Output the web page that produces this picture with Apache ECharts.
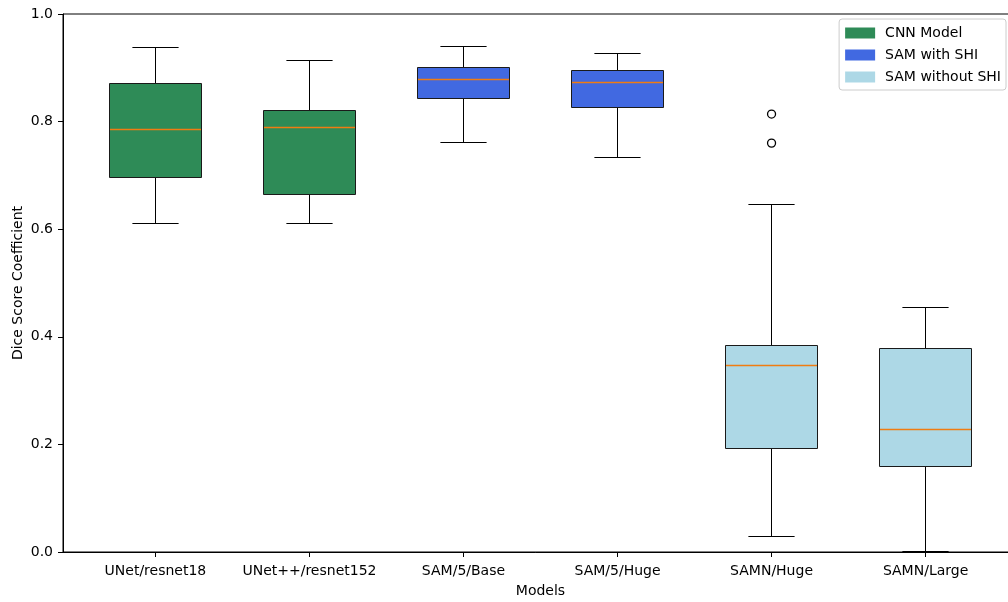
<!DOCTYPE html>
<html>
<head>
<meta charset="utf-8">
<title>Dice Score Coefficient by Model</title>
<script src="https://cdn.jsdelivr.net/npm/echarts@6/dist/echarts.min.js"></script>
<style>
  html, body { margin: 0; padding: 0; background: #fff; }
  #chart { width: 1008px; height: 602px; }
</style>
</head>
<body>
<div id="chart"></div>
<script>
// Models on the x axis (positions 1..6)
const categories = ['UNet/resnet18', 'UNet++/resnet152', 'SAM/5/Base', 'SAM/5/Huge', 'SAMN/Huge', 'SAMN/Large'];
const groupOf = ['CNN Model', 'CNN Model', 'SAM with SHI', 'SAM with SHI', 'SAM without SHI', 'SAM without SHI'];
const groupNames = ['CNN Model', 'SAM with SHI', 'SAM without SHI'];
const groupColors = ['#2e8b57', '#4169e1', '#add8e6'];

// Five-number summaries of the Dice scores
const whiskerLow  = [0.611, 0.611, 0.762, 0.734, 0.029, 0.001];
const quartile1   = [0.697, 0.665, 0.843, 0.827, 0.193, 0.159];
const medians     = [0.785, 0.789, 0.879, 0.872, 0.347, 0.228];
const quartile3   = [0.870, 0.821, 0.900, 0.895, 0.383, 0.378];
const whiskerHigh = [0.937, 0.914, 0.939, 0.926, 0.645, 0.455];

// Fliers: [model index, value]
const outliers = [[4, 0.814], [4, 0.760]];

const xPositions = categories.map((_, i) => i + 1);

const font = 'DejaVu Sans, Verdana, sans-serif';
const fontSize = 14;

// snap a coordinate to the pixel centre so 1px strokes stay sharp
const crisp = v => Math.round(v - 0.5) + 0.5;

function renderBox(params, api) {
  const x = api.value(0);
  const band = api.size([1, 0])[0];
  const half = band * 0.3;
  const capHalf = band * 0.15;
  const cx = crisp(api.coord([x, 0])[0]);
  const yLo = crisp(api.coord([x, api.value(1)])[1]);
  const yQ1 = crisp(api.coord([x, api.value(2)])[1]);
  const yMed = crisp(api.coord([x, api.value(3)])[1]);
  const yQ3 = crisp(api.coord([x, api.value(4)])[1]);
  const yHi = crisp(api.coord([x, api.value(5)])[1]);
  const left = crisp(cx - half), right = crisp(cx + half);
  const line = { stroke: '#000', lineWidth: 1 };
  return {
    type: 'group',
    children: [
      { type: 'line', shape: { x1: cx, y1: yQ1, x2: cx, y2: yLo }, style: line },
      { type: 'line', shape: { x1: cx, y1: yQ3, x2: cx, y2: yHi }, style: line },
      { type: 'line', shape: { x1: cx - capHalf, y1: yLo, x2: cx + capHalf, y2: yLo }, style: line },
      { type: 'line', shape: { x1: cx - capHalf, y1: yHi, x2: cx + capHalf, y2: yHi }, style: line },
      { type: 'rect', shape: { x: left, y: yQ3, width: right - left, height: yQ1 - yQ3 },
        style: { fill: api.visual('color'), stroke: '#1a1a1a', lineWidth: 1 } },
      { type: 'line', shape: { x1: left + 0.5, y1: yMed, x2: right - 0.5, y2: yMed },
        style: { stroke: '#f07c12', lineWidth: 1.5 } }
    ]
  };
}

const boxSeries = groupNames.map((name, g) => ({
  name: name,
  type: 'custom',
  renderItem: renderBox,
  itemStyle: { color: groupColors[g] },
  encode: { x: 0, y: [1, 2, 3, 4, 5] },
  data: categories.map((c, i) => i).filter(i => groupOf[i] === name).map(i =>
    [xPositions[i], whiskerLow[i], quartile1[i], medians[i], quartile3[i], whiskerHigh[i]]),
  z: 2
}));

const chart = echarts.init(document.getElementById('chart'));
chart.setOption({
  animation: false,
  backgroundColor: '#ffffff',
  textStyle: { fontFamily: font },
  grid: {
    left: 63, top: 14, right: -10, bottom: 50,
    show: true, borderColor: '#000', borderWidth: 1, backgroundColor: 'transparent',
    outerBoundsMode: 'none', containLabel: false
  },
  legend: {
    data: groupNames,
    orient: 'vertical',
    right: 2, top: 19,
    icon: 'rect',
    itemWidth: 30, itemHeight: 11, itemGap: 8,
    padding: [7, 5, 6, 6],
    borderColor: '#cccccc', borderWidth: 1, borderRadius: 3,
    backgroundColor: 'rgba(255,255,255,0.8)',
    textStyle: { fontFamily: font, fontSize: fontSize, lineHeight: 14, color: '#000', padding: [0, 0, 0, 5] }
  },
  xAxis: {
    type: 'value',
    min: 0.4, max: 6.6,
    name: 'Models',
    nameLocation: 'middle', nameGap: 32, nameMoveOverlap: false,
    nameTextStyle: { fontFamily: font, fontSize: fontSize, color: '#000' },
    axisLine: { show: true, onZero: false, lineStyle: { color: '#000', width: 1 } },
    axisTick: { show: true, customValues: xPositions, length: 5, lineStyle: { color: '#000' } },
    axisLabel: {
      customValues: xPositions,
      formatter: v => categories[Math.round(v) - 1] || '',
      fontFamily: font, fontSize: fontSize, color: '#000', margin: 12
    },
    splitLine: { show: false }
  },
  yAxis: {
    type: 'value',
    min: 0, max: 1, interval: 0.2,
    name: 'Dice Score Coefficient',
    nameLocation: 'middle', nameGap: 38, nameRotate: 90, nameMoveOverlap: false,
    nameTextStyle: { fontFamily: font, fontSize: fontSize, color: '#000' },
    axisLine: { show: true, lineStyle: { color: '#000', width: 1 } },
    axisTick: { show: true, length: 5, lineStyle: { color: '#000' } },
    axisLabel: {
      formatter: v => v.toFixed(1),
      fontFamily: font, fontSize: fontSize, color: '#000', margin: 10
    },
    splitLine: { show: false }
  },
  series: boxSeries.concat([{
    name: 'outliers',
    type: 'scatter',
    symbol: 'circle',
    symbolSize: 8,
    itemStyle: { color: '#ffffff', borderColor: '#000000', borderWidth: 1.3, opacity: 1 },
    data: outliers.map(o => [xPositions[o[0]], o[1]]),
    z: 3
  }])
});
</script>
</body>
</html>
